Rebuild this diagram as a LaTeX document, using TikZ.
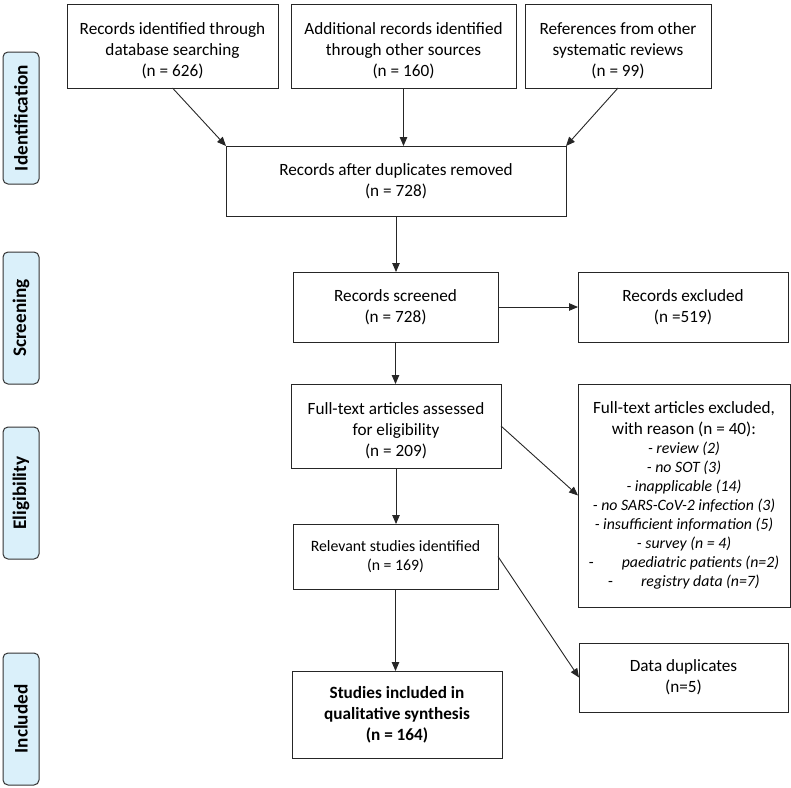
\documentclass[tikz,border=0pt]{standalone}
\usepackage{fontspec}
\setmainfont{Carlito}
\usetikzlibrary{arrows.meta}

\definecolor{stageblue}{RGB}{218,240,250}
\newcommand{\nrmsize}{\fontsize{17.2}{21}\selectfont}
\newcommand{\smlsize}{\fontsize{15.8}{19.3}\selectfont}
\newcommand{\why}[1]{{\smlsize\itshape #1}}
\newcommand{\lift}{\rule{0pt}{22pt}}

\begin{document}
\begin{tikzpicture}
  [
    x=1pt, y=-1pt,
    >={Triangle[length=9pt, width=7.5pt]},
    box/.style =
      {draw=black!85, line width=1pt, align=center, inner sep=0pt, outer sep=0pt, font=\nrmsize},
    stage/.style =
      {draw=black!80, line width=1pt, fill=stageblue, rounded corners=5pt, rotate=90,
       minimum width=132pt, minimum height=36pt, inner sep=0pt,
       font=\fontsize{19.2}{23}\selectfont\bfseries},
    link/.style = {->, line width=0.9pt, black!85}
  ]
  \useasboundingbox (0, 0) rectangle (791, 787);

  \node [stage] at (21, 118) (a) {Identification};
  \node [stage] at (21, 318) (b) {Screening};
  \node [stage] at (21, 493) (c) {Eligibility};
  \node [stage] at (21, 719) (d) {Included};

  \node [box, minimum width=211pt, minimum height=84pt] at (172.5, 46) (1)
    {\lift Records identified through\\database searching\\(n = 626)};
  \node [box, minimum width=225pt, minimum height=84pt] at (403.5, 46) (2)
    {\lift Additional records identified\\through other sources\\(n = 160)};
  \node [box, minimum width=186pt, minimum height=84pt] at (618, 46) (3)
    {\lift References from other\\systematic reviews\\(n = 99)};
  \node [box, minimum width=340pt, minimum height=70pt] at (396, 181) (4)
    {Records after duplicates removed\\(n = 728)};
  \node [box, minimum width=205pt, minimum height=70pt] at (395.5, 307) (5)
    {Records screened\\(n = 728)};
  \node [box, minimum width=210pt, minimum height=70pt] at (683, 307) (6)
    {Records excluded\\(n =519)};
  \node [box, minimum width=210pt, minimum height=84pt] at (396, 426) (7)
    {\lift Full-text articles assessed\\for eligibility\\(n = 209)};
  \node [box, minimum width=212pt, minimum height=223pt] at (684, 495.5) (8)
    {Full-text articles excluded,\\with reason (n = 40):\\[-2pt]
     \why{- review (2)}\\[-2pt] \why{- no SOT (3)}\\[-2pt] \why{- inapplicable (14)}\\[-2pt]
     \why{- no SARS-CoV-2 infection (3)}\\[-2pt] \why{- insufficient information (5)}\\[-2pt]
     \why{- survey (n = 4)}\\[-2pt]
     {\smlsize-\hspace{28pt}}\why{paediatric patients (n=2)}\\[-2pt]
     {\smlsize-\hspace{28pt}}\why{registry data (n=7)}};
  \node [box, minimum width=205pt, minimum height=65pt, font=\smlsize] at (395.5, 556.5) (9)
    {Relevant studies identified\\(n = 169)};
  \node [box, minimum width=209pt, minimum height=69pt] at (683.5, 677.5) (10)
    {Data duplicates\\(n=5)};
  \node [box, minimum width=210pt, minimum height=87pt, font=\nrmsize\bfseries] at (397, 714.5) (11)
    {Studies included in\\qualitative synthesis\\(n = 164)};

  \draw [link] (1.south) -- (4.north west);
  \draw [link] (2.south) -- (2.south |- 4.north);
  \draw [link] (3.south) -- (4.north east);
  \draw [link] (4.south) -- (4.south |- 5.north);
  \draw [link] (5.east) -- (6.west);
  \draw [link] (5.south) -- (5.south |- 7.north);
  \draw [link] (7.east) -- (8.west);
  \draw [link] (7.south) -- (7.south |- 9.north);
  \draw [link] (9.east) -- (10.west);
  \draw [link] (9.south) -- (9.south |- 11.north);

\end{tikzpicture}
\end{document}
